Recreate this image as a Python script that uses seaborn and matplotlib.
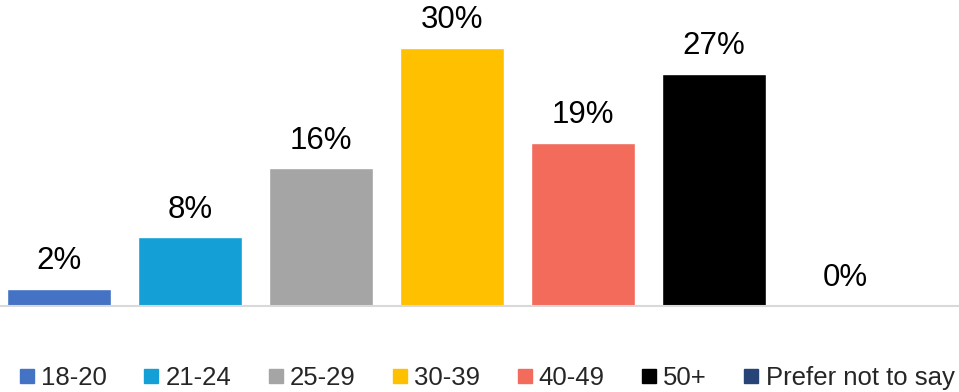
import seaborn as sns
from matplotlib import pyplot as plt
from matplotlib.lines import Line2D
import pandas as pd

sns.set_theme(style='white')
plt.rcParams['font.family'] = ['Liberation Sans', 'DejaVu Sans']

age_groups = ['18-20', '21-24', '25-29', '30-39', '40-49', '50+', 'Prefer not to say']
shares = [2, 8, 16, 30, 19, 27, 0]
colors = ['#4472C4', '#14A0D6', '#A5A5A5', '#FFC000', '#F26B5B', '#000000', '#264478']

df = pd.DataFrame({'age': age_groups, 'share': shares})

fig = plt.figure(figsize=(9.59, 3.92), dpi=100)
ax = fig.add_axes([0, 86 / 392, 1, 306 / 392])

sns.barplot(data=df, x='age', y='share', hue='age', palette=colors,
            width=0.794, legend=False, saturation=1, ax=ax)

for cont, v in zip(ax.containers, shares):
    ax.bar_label(cont, labels=[f'{v}%'], padding=9, fontsize=22.5, color='#000000')

ax.set_xlim(-59 / 131, 6 + 114 / 131)
ax.set_ylim(0, 306 / 8.6)
ax.set_xticks([])
ax.set_yticks([])
ax.set_xlabel('')
ax.set_ylabel('')
for s in ['top', 'left', 'right']:
    ax.spines[s].set_visible(False)
ax.spines['bottom'].set_color('#d9d9d9')
ax.spines['bottom'].set_linewidth(1.5)

handles = [Line2D([], [], marker='s', linestyle='', markersize=10,
                  markerfacecolor=c, markeredgecolor=c) for c in colors]
fig.legend(handles, age_groups, loc='center', bbox_to_anchor=(0.508, 0.036),
           ncol=7, frameon=False, fontsize=18.5, handlelength=0.55,
           handletextpad=0.28, columnspacing=1.45, borderpad=0)

plt.savefig('out.png', dpi=100)
